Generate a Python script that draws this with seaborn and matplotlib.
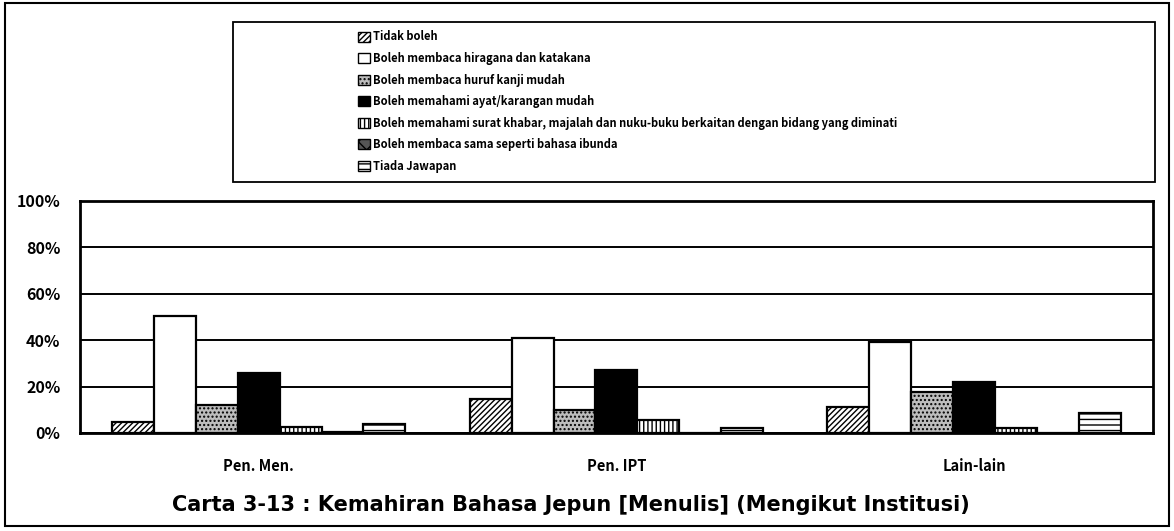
import matplotlib
matplotlib.use("Agg")
import matplotlib.pyplot as plt
import pandas as pd
import seaborn as sns
from matplotlib.patches import Patch, Rectangle
from matplotlib.ticker import PercentFormatter

institutions = ["Pen. Men.", "Pen. IPT", "Lain-lain"]
answers = [
    "Tidak boleh",
    "Boleh membaca hiragana dan katakana",
    "Boleh membaca huruf kanji mudah",
    "Boleh memahami ayat/karangan mudah",
    "Boleh memahami surat khabar, majalah dan nuku-buku berkaitan dengan bidang yang diminati",
    "Boleh membaca sama seperti bahasa ibunda",
    "Tiada Jawapan",
]
# percent per answer, one value per institution
tidak_boleh = [4.7, 14.7, 11.0]
hiragana_katakana = [50.4, 41.0, 39.0]
kanji_mudah = [12.0, 10.0, 17.7]
ayat_mudah = [26.0, 27.0, 22.0]
surat_khabar = [2.5, 5.6, 2.0]
bahasa_ibunda = [0.3, 0.0, 0.0]
tiada_jawapan = [4.0, 2.0, 8.6]

series = [tidak_boleh, hiragana_katakana, kanji_mudah, ayat_mudah,
          surat_khabar, bahasa_ibunda, tiada_jawapan]
rows = []
for answer, values in zip(answers, series):
    for inst, val in zip(institutions, values):
        rows.append({"Institusi": inst, "Jawapan": answer, "Peratus": val})
df = pd.DataFrame(rows)

# fill / hatch per answer, like the printed b/w chart
styles = [
    ("white", "//////"),
    ("white", ""),
    ("#bdbdbd", "...."),
    ("black", ""),
    ("white", "||||"),
    ("#555555", "xx"),
    ("white", "---"),
]

sns.set_theme(style="white")
plt.rcParams["font.family"] = ["Noto Sans CJK JP", "DejaVu Sans"]
plt.rcParams["font.weight"] = "bold"
plt.rcParams["hatch.linewidth"] = 1.0
for key in ["text.color", "xtick.color", "ytick.color", "axes.labelcolor"]:
    plt.rcParams[key] = "black"

fig = plt.figure(figsize=(11.74, 5.31), dpi=100)
ax = fig.add_axes([0.068, 0.1846, 0.914, 0.437])

sns.barplot(data=df, x="Institusi", y="Peratus", hue="Jawapan",
            hue_order=answers, order=institutions, width=0.82,
            ax=ax, legend=False, saturation=1)

for container, (fc, hatch) in zip(ax.containers, styles):
    for bar in container:
        bar.set_facecolor(fc)
        bar.set_hatch(hatch)
        bar.set_edgecolor("black")
        bar.set_linewidth(1.6)

ax.set_ylim(0, 100)
ax.set_yticks([0, 20, 40, 60, 80, 100])
ax.yaxis.set_major_formatter(PercentFormatter(decimals=0))
ax.grid(axis="y", color="black", linewidth=1.4)
ax.set_axisbelow(True)
for spine in ax.spines.values():
    spine.set_color("black")
    spine.set_linewidth(2)
ax.tick_params(axis="y", length=0, pad=14, labelsize=11.5)
ax.tick_params(axis="x", length=0, pad=18, labelsize=10.5)
ax.set_xlabel("")
ax.set_ylabel("")

# legend box
fig.patches.append(Rectangle((233 / 1174, 1 - 182 / 531), (1155 - 233) / 1174, 160 / 531,
                             transform=fig.transFigure, fill=False,
                             edgecolor="black", linewidth=1.3))
handles = [Patch(facecolor=fc, hatch=h, edgecolor="black", linewidth=1.0, label=lab)
           for (fc, h), lab in zip(styles, answers)]
fig.legend(handles=handles, loc="upper left",
           bbox_to_anchor=(354 / 1174, 1 - 26 / 531), frameon=False,
           fontsize=8, labelspacing=0.77, handlelength=1.0, handleheight=1.0,
           handletextpad=0.3, borderaxespad=0)

fig.text(0.486, 1 - 505 / 531,
         "Carta 3-13 : Kemahiran Bahasa Jepun [Menulis] (Mengikut Institusi)",
         ha="center", va="center", fontsize=15, fontweight="bold",
         family=["DejaVu Sans"])

# outer frame
fig.patches.append(Rectangle((0.004, 0.01), 0.992, 0.984, transform=fig.transFigure,
                             fill=False, edgecolor="black", linewidth=1.5))

fig.savefig("out.png", dpi=100, facecolor="white")
